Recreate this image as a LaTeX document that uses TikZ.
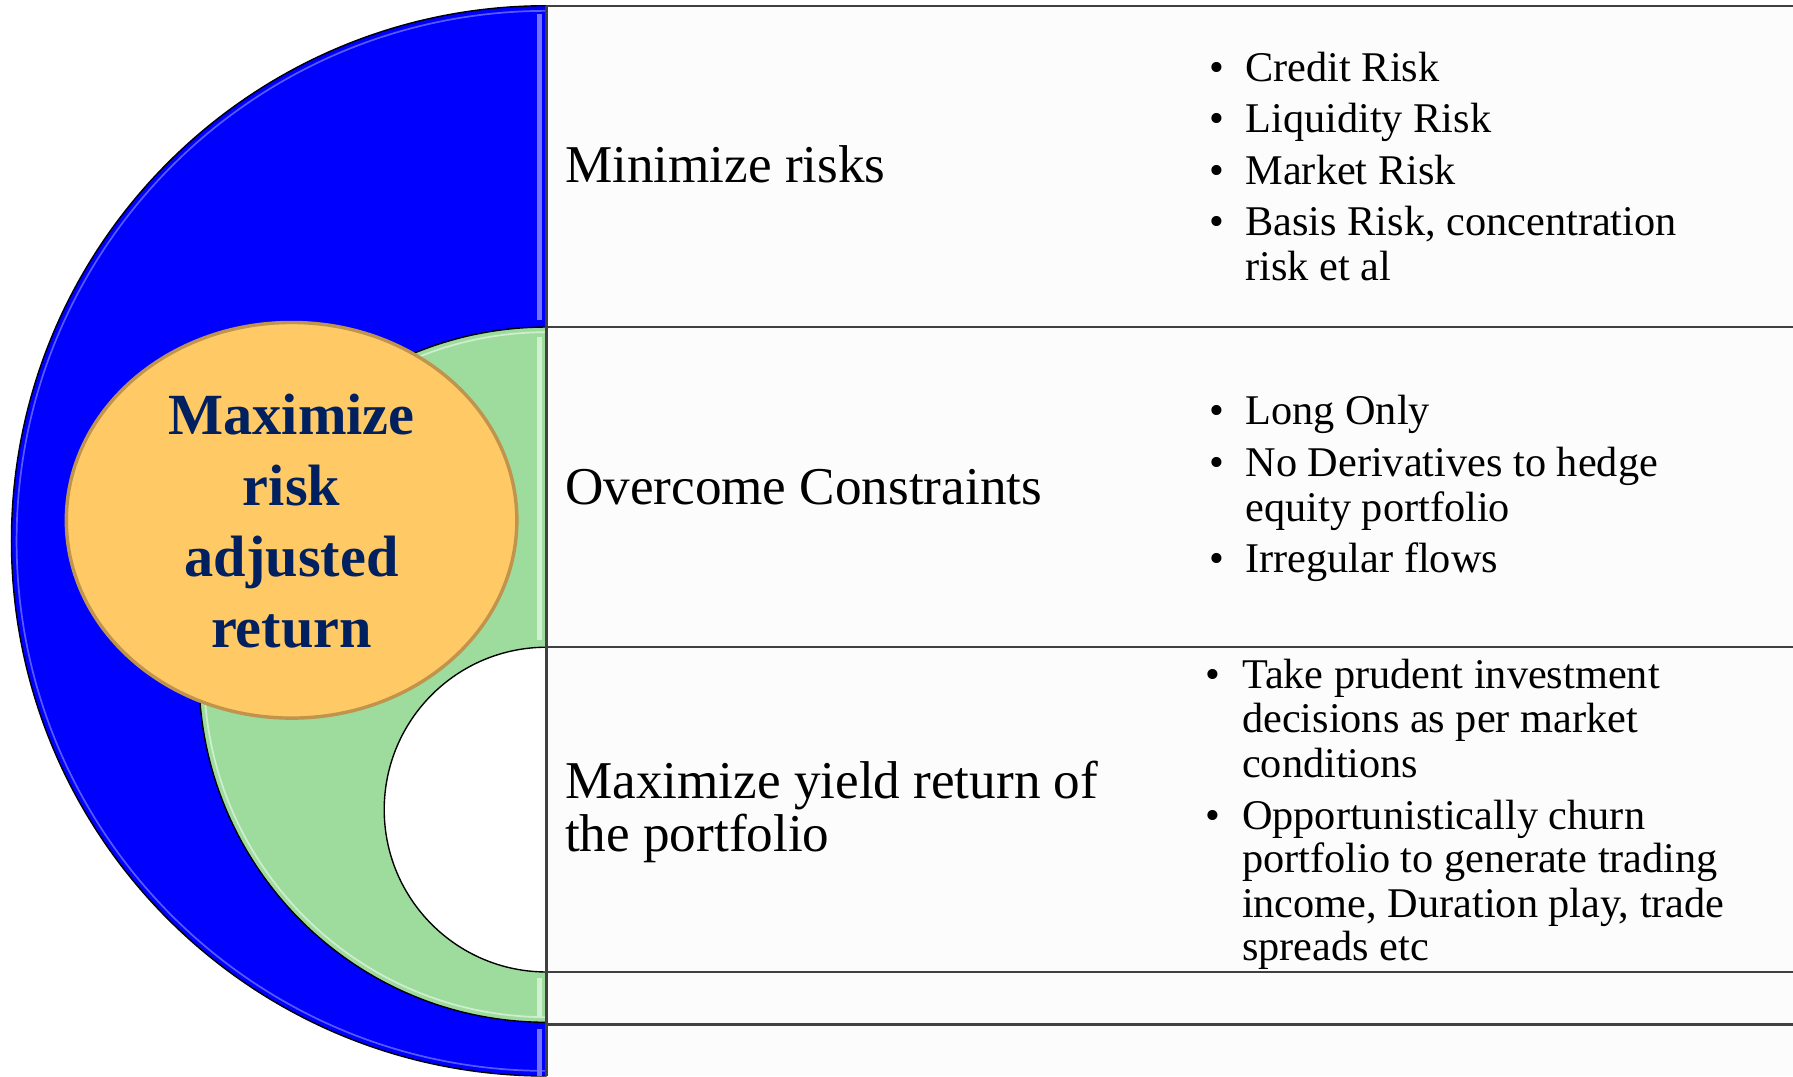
\documentclass[tikz,border=0pt]{standalone}
\usepackage{fontspec}
\setmainfont{Liberation Serif}
\usetikzlibrary{shapes.geometric}
\definecolor{bandblue}{RGB}{0,0,255}
\definecolor{bandgreen}{RGB}{158,220,158}
\definecolor{ovalfill}{RGB}{255,202,102}
\definecolor{ovaledge}{RGB}{192,148,76}
\definecolor{navy}{RGB}{0,32,96}
\definecolor{rule}{RGB}{64,64,64}
\definecolor{cell}{RGB}{252,252,252}
\tikzset{
  head/.style={anchor=base west, inner sep=0, font=\fontsize{46.5}{48}\selectfont},
  itm/.style={anchor=base west, inner sep=0, font=\fontsize{37}{39}\selectfont},
  bul/.style={anchor=base, inner sep=0, font=\fontsize{37}{39}\selectfont},
  big/.style={anchor=base, inner sep=0, text=navy, font=\fontsize{51}{62}\selectfont\bfseries},
  rowline/.style={draw=rule, line width=2pt},
  arcline/.style={draw=black, line width=1.2pt}
}
\begin{document}
\begin{tikzpicture}[x=1pt,y=-1pt]
\useasboundingbox (0,0) rectangle (1568,941);
\fill[white] (0,0) rectangle (1568,941);
% table cells
\fill[cell] (478,5) rectangle (1568,941);
\coordinate (t0) at (478,5);
\coordinate (t1) at (478,286);
\coordinate (t2) at (478,566);
\coordinate (t3) at (478,850);
\coordinate (t4) at (478,896);
\coordinate (t5) at (478,941);
\coordinate (r0) at (1568,5);
\coordinate (r1) at (1568,286);
\coordinate (r2) at (1568,566);
\coordinate (r3) at (1568,850);
\coordinate (r4) at (1568,896);
% half discs
\begin{scope}
\clip (0,0) rectangle (478,941);
\fill[bandblue] (478,473) circle (468);
\draw[arcline] (478,473) circle (468);
\draw[blue!65!white, line width=1.5pt] (478,473) circle (463.5);
\fill[bandgreen] (478,590) circle (304);
\draw[arcline] (478,590) circle (304);
\draw[bandgreen!50!white, line width=1.5pt] (478,590) circle (299.5);
\fill[white] (478,708) circle (142);
\draw[arcline] (478,708) circle (142);
\fill[blue!55!white] (470,12) rectangle (474,280);
\fill[blue!55!white] (470,900) rectangle (474,941);
\fill[bandgreen!45!white] (470,295) rectangle (474,560);
\fill[bandgreen!45!white] (470,855) rectangle (474,890);
\end{scope}
% table rules
\draw[rowline] (t0) -- (r0);
\draw[rowline] (t1) -- (r1);
\draw[rowline] (t2) -- (r2);
\draw[rowline] (t3) -- (r3);
\draw[rowline] (t4) -- (r4);
\draw[rowline] (t0) -- (t5);
% central oval
\node[ellipse, draw=ovaledge, fill=ovalfill, line width=3pt, minimum width=394, minimum height=346, inner sep=0] (oval) at (255,455) {};
\node[big] (m1) at (255,380) {Maximize};
\node[big] (m2) at (255,442) {risk};
\node[big] (m3) at (255,504) {adjusted};
\node[big] (m4) at (255,566) {return};
% headings
\node[head] (h1) at (494,160) {Minimize risks};
\node[head] (h2) at (494,441) {Overcome Constraints};
\node[head] (h3a) at (494,698) {Maximize yield return of};
\node[head] (h3b) at (494,745) {the portfolio};
% list 1
\node[bul] (b11) at (1064,71) {•};
\node[itm] (i11) at (1089,71) {Credit Risk};
\node[bul] (b12) at (1064,116) {•};
\node[itm] (i12) at (1089,116) {Liquidity Risk};
\node[bul] (b13) at (1064,161) {•};
\node[itm] (i13) at (1089,161) {Market Risk};
\node[bul] (b14) at (1064,206) {•};
\node[itm] (i14a) at (1089,206) {Basis Risk, concentration};
\node[itm] (i14b) at (1089,245) {risk et al};
% list 2
\node[bul] (b21) at (1064,371) {•};
\node[itm] (i21) at (1089,371) {Long Only};
\node[bul] (b22) at (1064,417) {•};
\node[itm] (i22a) at (1089,417) {No Derivatives to hedge};
\node[itm] (i22b) at (1089,456) {equity portfolio};
\node[bul] (b23) at (1064,501) {•};
\node[itm] (i23) at (1089,501) {Irregular flows};
% list 3
\node[bul] (b31) at (1061,602) {•};
\node[itm] (i31a) at (1086,602) {Take prudent investment};
\node[itm] (i31b) at (1086,641) {decisions as per market};
\node[itm] (i31c) at (1086,680) {conditions};
\node[bul] (b32) at (1061,725) {•};
\node[itm] (i32a) at (1086,725) {Opportunistically churn};
\node[itm] (i32b) at (1086,763) {portfolio to generate trading};
\node[itm] (i32c) at (1086,802) {income, Duration play, trade};
\node[itm] (i32d) at (1086,840) {spreads etc};
\end{tikzpicture}
\end{document}
